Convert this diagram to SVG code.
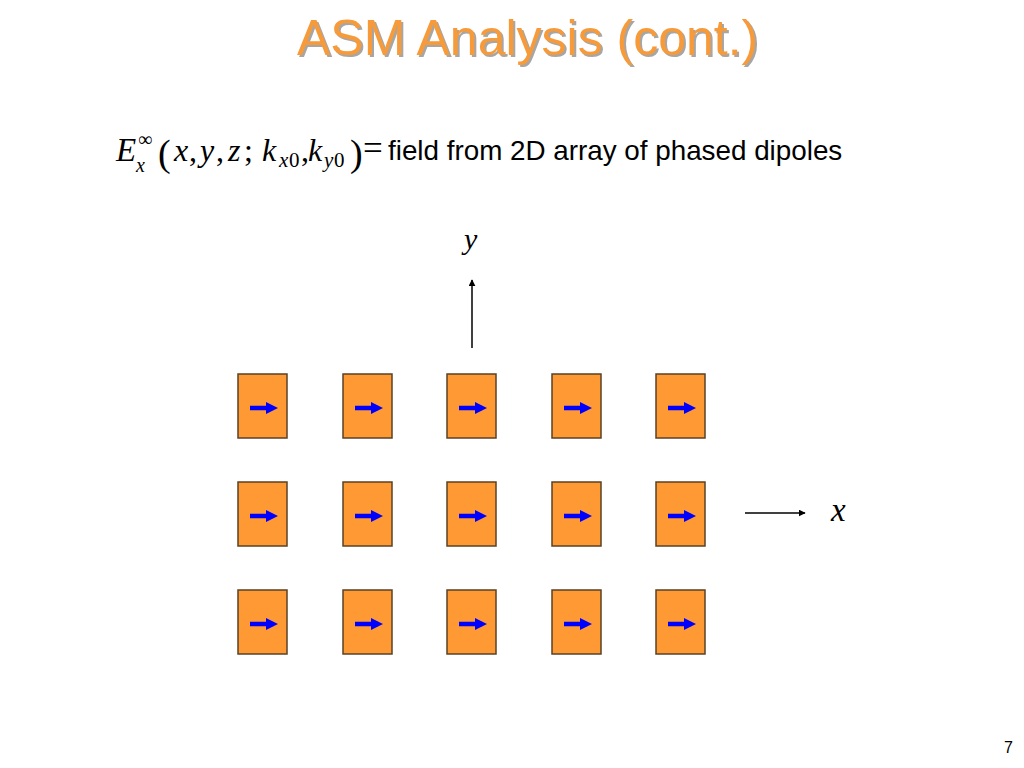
<svg xmlns="http://www.w3.org/2000/svg" xmlns:xlink="http://www.w3.org/1999/xlink" width="1024" height="768" viewBox="0 0 1024 768">
<defs>
<style>
.title{font-family:"Liberation Sans",Arial,sans-serif;font-size:50px;}
.m{font-family:"Liberation Serif","Times New Roman",serif;font-style:italic;fill:#000;}
.r{font-family:"Liberation Serif","Times New Roman",serif;fill:#000;}
.s{font-family:"Liberation Sans",Arial,sans-serif;fill:#000;}
.box{fill:#FF9933;stroke:#5A4226;stroke-width:1.5;}
.dip{fill:#0000FF;}
.axis{stroke:#000;stroke-width:1.5;fill:none;}
</style>
<marker id="ah" viewBox="0 0 10 10" refX="9" refY="5" markerWidth="7" markerHeight="7" markerUnits="userSpaceOnUse" orient="auto">
<path d="M0,0 L10,5 L0,10 z" fill="#000"/>
</marker>
<g id="cell">
<rect class="box" x="0" y="0" width="49" height="64"/>
<path class="dip" d="M12,31.7 L28,31.7 L28,28 L40,34 L28,40 L28,36.3 L12,36.3 z"/>
</g>
</defs>
<rect width="1024" height="768" fill="#fff"/>
<g id="title">
<text class="title" x="299" y="57" fill="#A6A6A6">ASM Analysis (cont.)</text>
<text class="title" x="297" y="55" fill="#F79A3A">ASM Analysis (cont.)</text>
</g>
<g id="equation">
<text class="m" x="116" y="161" font-size="33">E</text>
<text class="r" x="138" y="146" font-size="20">∞</text>
<text class="m" x="136" y="172" font-size="20">x</text>
<text class="r" x="158" y="166" font-size="38">(</text>
<text class="m" x="174" y="161" font-size="32">x</text>
<text class="r" x="189" y="161" font-size="32">,</text>
<text class="m" x="200" y="161" font-size="32">y</text>
<text class="r" x="216" y="161" font-size="32">,</text>
<text class="m" x="228" y="161" font-size="32">z</text>
<text class="r" x="244" y="161" font-size="32">;</text>
<text class="m" x="262" y="161" font-size="32">k</text>
<text class="m" x="279" y="167" font-size="21">x</text>
<text class="r" x="289" y="167" font-size="21">0</text>
<text class="r" x="301" y="161" font-size="32">,</text>
<text class="m" x="308" y="161" font-size="32">k</text>
<text class="m" x="324" y="167" font-size="21">y</text>
<text class="r" x="334" y="167" font-size="21">0</text>
<text class="r" x="350" y="166" font-size="38">)</text>
<text class="r" x="363" y="160" font-size="35">=</text>
<text class="s" x="388" y="160" font-size="27.8">field from 2D array of phased dipoles</text>
</g>
<g id="connectors">
<line class="axis" x1="472" y1="348" x2="472" y2="280" marker-end="url(#ah)"/>
<line class="axis" x1="745" y1="513" x2="805" y2="513" marker-end="url(#ah)"/>
</g>
<g id="axis-labels">
<text class="m" x="464" y="249" font-size="30">y</text>
<text class="m" x="831" y="521" font-size="33">x</text>
</g>
<g id="n11"><use xlink:href="#cell" x="238" y="374"/></g>
<g id="n12"><use xlink:href="#cell" x="343" y="374"/></g>
<g id="n13"><use xlink:href="#cell" x="447" y="374"/></g>
<g id="n14"><use xlink:href="#cell" x="552" y="374"/></g>
<g id="n15"><use xlink:href="#cell" x="656" y="374"/></g>
<g id="n21"><use xlink:href="#cell" x="238" y="482"/></g>
<g id="n22"><use xlink:href="#cell" x="343" y="482"/></g>
<g id="n23"><use xlink:href="#cell" x="447" y="482"/></g>
<g id="n24"><use xlink:href="#cell" x="552" y="482"/></g>
<g id="n25"><use xlink:href="#cell" x="656" y="482"/></g>
<g id="n31"><use xlink:href="#cell" x="238" y="590"/></g>
<g id="n32"><use xlink:href="#cell" x="343" y="590"/></g>
<g id="n33"><use xlink:href="#cell" x="447" y="590"/></g>
<g id="n34"><use xlink:href="#cell" x="552" y="590"/></g>
<g id="n35"><use xlink:href="#cell" x="656" y="590"/></g>
<g id="page-number">
<text class="s" x="1004" y="753" font-size="16">7</text>
</g>
</svg>
